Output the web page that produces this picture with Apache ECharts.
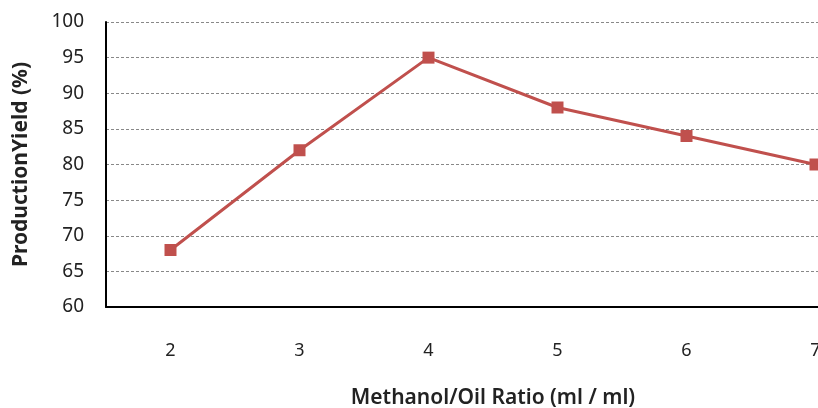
<!doctype html>
<html lang="en">
<head>
    <meta charset="UTF-8">
    <title>Production Yield</title>
    <script src="https://cdn.jsdelivr.net/npm/echarts@6/dist/echarts.min.js"></script>
    <style>
        html, body { margin: 0; padding: 0; background: #fff; }
    </style>
</head>
<body>
    <div id="main" style="width: 818px;height:408px;"></div>
    <script>
        var ratios = ['2', '3', '4', '5', '6', '7'];
        var yields = [68, 82, 95, 88, 84, 80];

        var myChart = echarts.init(document.getElementById('main'));
        myChart.setOption({
            backgroundColor: '#fff',
            animation: false,
            grid: {
                left: 106,
                top: 22,
                width: 774,
                height: 285,
                containLabel: false,
                outerBoundsMode: 'none'
            },
            xAxis: {
                type: 'category',
                data: ratios,
                boundaryGap: true,
                name: 'Methanol/Oil Ratio (ml / ml)',
                nameLocation: 'middle',
                nameGap: 81,
                nameTextStyle: {
                    fontFamily: 'Noto Sans',
                    fontSize: 21,
                    fontWeight: 600,
                    color: '#222'
                },
                axisLine: { lineStyle: { color: '#000', width: 2 } },
                axisTick: { show: false },
                axisLabel: {
                    margin: 35,
                    fontFamily: 'Noto Sans',
                    fontSize: 18,
                    color: '#222'
                }
            },
            yAxis: {
                type: 'value',
                min: 60,
                max: 100,
                interval: 5,
                name: 'ProductionYield (%)',
                nameLocation: 'middle',
                nameGap: 74,
                nameTextStyle: {
                    fontFamily: 'Noto Sans',
                    fontSize: 21,
                    fontWeight: 'bold',
                    color: '#222'
                },
                axisLine: { show: true, lineStyle: { color: '#000', width: 2 } },
                axisTick: { show: false },
                axisLabel: {
                    margin: 22,
                    fontFamily: 'Noto Sans',
                    fontSize: 19,
                    color: '#222'
                },
                splitLine: {
                    lineStyle: { color: '#888', type: [3, 2], width: 1 }
                }
            },
            series: [{
                type: 'line',
                data: yields,
                symbol: 'rect',
                symbolSize: 12,
                lineStyle: { color: '#C0504D', width: 3 },
                itemStyle: { color: '#C0504D' }
            }]
        });
    </script>
</body>
</html>
